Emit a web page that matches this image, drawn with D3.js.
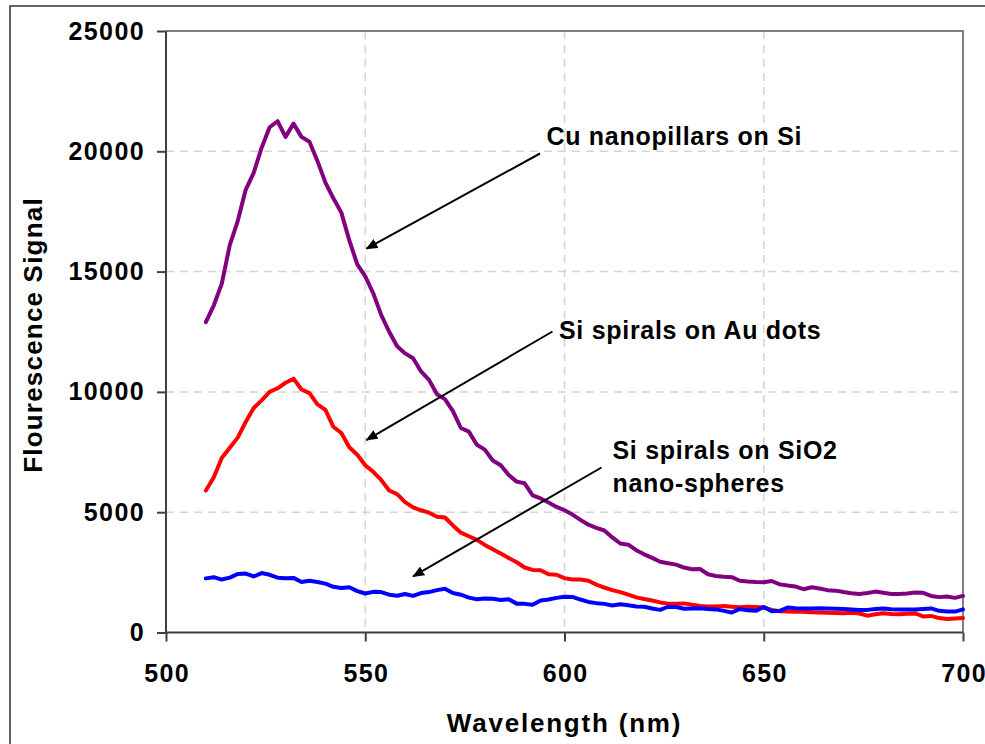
<!DOCTYPE html>
<html>
<head>
<meta charset="utf-8">
<script src="https://cdn.jsdelivr.net/npm/d3@7"></script>
<style>
  html, body { margin: 0; padding: 0; background: #fff; }
  svg { display: block; }
  text { font-family: "Liberation Sans", Arial, sans-serif; font-weight: bold; fill: #000; }
</style>
</head>
<body>
<svg id="chart" width="985" height="744"></svg>
<script>
// ---------- data ----------
const wavelengths = d3.range(510, 701, 2);

const cuNanopillars = [
  12900, 13600, 14500, 16100, 17100, 18400, 19100, 20150, 21000, 21250,
  20600, 21150, 20600, 20400, 19600, 18700, 18050, 17450, 16300, 15300,
  14800, 14100, 13200, 12500, 11900, 11600, 11400, 10850, 10500, 9900,
  9700, 9200, 8500, 8350, 7800, 7600, 7150, 6950, 6550, 6270,
  6200, 5700, 5570, 5400, 5220, 5080, 4900, 4680, 4480, 4350,
  4240, 3950, 3700, 3650, 3420, 3250, 3100, 2940, 2880, 2820,
  2700, 2630, 2640, 2420, 2350, 2320, 2300, 2150, 2120, 2100,
  2090, 2140, 2000, 1950, 1910, 1800, 1880, 1830, 1760, 1740,
  1680, 1630, 1600, 1640, 1700, 1650, 1600, 1600, 1620, 1660,
  1650, 1520, 1470, 1500, 1440, 1520
];

const auDots = [
  5900, 6450, 7250, 7680, 8100, 8750, 9330, 9650, 10000, 10150,
  10380, 10550, 10100, 9950, 9480, 9250, 8550, 8290, 7700, 7390,
  6950, 6680, 6340, 5900, 5750, 5420, 5200, 5080, 4980, 4810,
  4780, 4450, 4150, 4000, 3850, 3640, 3460, 3280, 3100, 2920,
  2700, 2600, 2590, 2420, 2400, 2260, 2200, 2200, 2150, 1990,
  1870, 1760, 1680, 1570, 1460, 1390, 1330, 1250, 1200, 1190,
  1210, 1150, 1100, 1080, 1080, 1100, 1070, 1050, 1070, 1060,
  1040, 940, 880, 870, 860, 860, 840, 830, 820, 810,
  800, 820, 790, 700, 760, 800, 770, 760, 780, 790,
  670, 690, 600, 560, 580, 600
];

const sio2Spheres = [
  2250, 2300, 2200, 2280, 2430, 2450, 2330, 2470, 2400, 2280,
  2250, 2270, 2100, 2150, 2100, 2030, 1900, 1850, 1880, 1720,
  1620, 1690, 1680, 1570, 1530, 1600, 1520, 1640, 1680, 1760,
  1820, 1640, 1570, 1450, 1380, 1410, 1400, 1350, 1380, 1200,
  1190, 1150, 1330, 1370, 1440, 1490, 1480, 1370, 1270, 1220,
  1190, 1120, 1170, 1130, 1080, 1070, 1000, 940, 1070, 1060,
  990, 1000, 1010, 980, 960, 900, 830, 980, 920, 900,
  1060, 880, 900, 1040, 1010, 1000, 1000, 1010, 1000, 990,
  980, 960, 940, 940, 980, 1000, 970, 960, 960, 960,
  980, 1000, 900, 870, 870, 960
];

const seriesNames = ["Cu nanopillars on Si", "Si spirals on Au dots", "Si spirals on SiO2 nano-spheres"];
const seriesColors = ["#800080", "#ff0000", "#0000ff"];
const xTicks = [500, 550, 600, 650, 700];
const yTicks = [0, 5000, 10000, 15000, 20000, 25000];

// annotation anchors in data units (arrow tip)
const annotations = [
  { lines: ["Cu nanopillars on Si"], tip: [550.3, 15950] },
  { lines: ["Si spirals on Au dots"], tip: [550.3, 8000] },
  { lines: ["Si spirals on SiO2", "nano-spheres"], tip: [562, 2330] }
];

// ---------- layout ----------
const svg = d3.select("#chart");
const L = 166, R = 963, T = 31, B = 632.5;

const x = d3.scaleLinear().domain([500, 700]).range([L, R]);
const y = d3.scaleLinear().domain([0, 25000]).range([B, T]);

// outer frame
svg.append("rect").attr("x", 10).attr("y", 6).attr("width", 1000).attr("height", 800)
  .attr("fill", "#fff").attr("stroke", "#333").attr("stroke-width", 1.5);

// gridlines
const grid = svg.append("g");
grid.selectAll("line.h").data(yTicks.filter(d => d > 0 && d < 25000)).join("line")
  .attr("x1", L).attr("x2", R).attr("y1", d => y(d)).attr("y2", d => y(d))
  .attr("stroke", "#d4d4d4").attr("stroke-width", 1.5).attr("stroke-dasharray", "8,6");
grid.selectAll("line.v").data(xTicks.filter(d => d > 500 && d < 700)).join("line")
  .attr("y1", T).attr("y2", B).attr("x1", d => x(d)).attr("x2", d => x(d))
  .attr("stroke", "#d4d4d4").attr("stroke-width", 1.5).attr("stroke-dasharray", "8,6");

// top & right border
svg.append("path").attr("d", `M${L},${T}H${R}V${B}`)
  .attr("fill", "none").attr("stroke", "#808080").attr("stroke-width", 2);

// series
const line = d3.line().x((d, i) => x(wavelengths[i])).y(d => y(d));
[cuNanopillars, auDots, sio2Spheres].forEach((s, k) => {
  svg.append("path").datum(s).attr("d", line)
    .attr("fill", "none").attr("stroke", seriesColors[k]).attr("stroke-width", 4)
    .attr("stroke-linejoin", "round").attr("stroke-linecap", "round");
});

// axes
const yAxis = svg.append("g").attr("transform", `translate(${L},0)`)
  .call(d3.axisLeft(y).tickValues(yTicks).tickSize(9).tickPadding(12).tickFormat(d3.format("d")));
const xAxis = svg.append("g").attr("transform", `translate(0,${B})`)
  .call(d3.axisBottom(x).tickValues(xTicks).tickSize(9).tickPadding(23).tickFormat(d3.format("d")));
[yAxis, xAxis].forEach(a => {
  a.select(".domain").attr("stroke", "#404040").attr("stroke-width", 2);
  a.selectAll(".tick line").attr("stroke", "#404040").attr("stroke-width", 2);
  a.selectAll(".tick text").attr("font-size", 25).attr("letter-spacing", "1.4px")
    .style("font-family", '"Liberation Sans", Arial, sans-serif').attr("font-weight", "bold").attr("fill", "#000");
});
xAxis.selectAll(".tick text").attr("dx", "0.7px");
yAxis.select(".domain").attr("d", `M0,${B}V${T}`);
xAxis.select(".domain").attr("d", `M${L},0H${R}`);

// axis titles
svg.append("text").attr("x", (L + R) / 2).attr("y", 731.5).attr("text-anchor", "middle")
  .attr("font-size", 26).attr("letter-spacing", "1.8px").text("Wavelength (nm)");
svg.append("text").attr("transform", `translate(41.5,335) rotate(-90)`).attr("text-anchor", "middle")
  .attr("font-size", 26).attr("letter-spacing", "1.2px").text("Flourescence Signal");

// annotations
const defs = svg.append("defs");
defs.append("marker").attr("id", "arrow").attr("viewBox", "0 0 12 10")
  .attr("refX", 11).attr("refY", 5).attr("markerWidth", 12).attr("markerHeight", 10)
  .attr("markerUnits", "userSpaceOnUse").attr("orient", "auto")
  .append("path").attr("d", "M0,0L12,5L0,10Z").attr("fill", "#000");

const labelPos = [[546.5, 144.5], [559, 338.5], [612.5, 458.5]];
const arrowStart = [[540, 153.5], [552.5, 331.5], [601.5, 467.5]];
annotations.forEach((a, k) => {
  const t = svg.append("text").attr("x", labelPos[k][0]).attr("y", labelPos[k][1])
    .attr("font-size", 25).attr("letter-spacing", "0.7px");
  a.lines.forEach((ln, j) => t.append("tspan").attr("x", labelPos[k][0]).attr("dy", j === 0 ? 0 : 33.4).text(ln));
  svg.append("line").attr("x1", arrowStart[k][0]).attr("y1", arrowStart[k][1])
    .attr("x2", x(a.tip[0])).attr("y2", y(a.tip[1]))
    .attr("stroke", "#000").attr("stroke-width", 2).attr("marker-end", "url(#arrow)");
});
</script>
</body>
</html>
